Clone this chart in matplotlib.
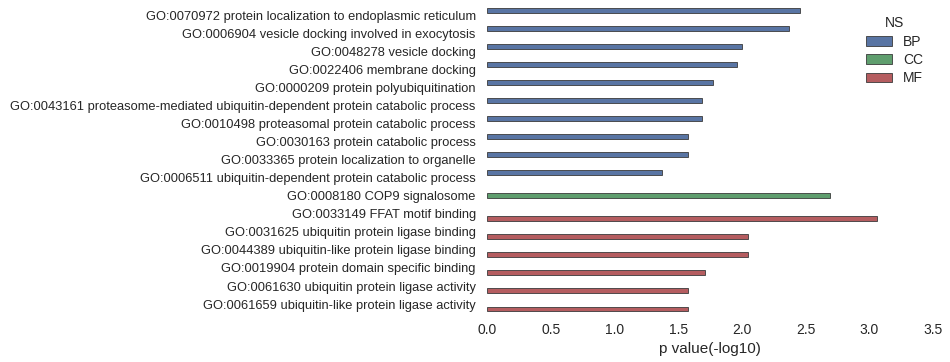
import colorsys
import numpy as np
import matplotlib
matplotlib.use("Agg")
import matplotlib.pyplot as plt
from matplotlib.colors import to_rgb

terms = [
    "GO:0070972 protein localization to endoplasmic reticulum",
    "GO:0006904 vesicle docking involved in exocytosis",
    "GO:0048278 vesicle docking",
    "GO:0022406 membrane docking",
    "GO:0000209 protein polyubiquitination",
    "GO:0043161 proteasome-mediated ubiquitin-dependent protein catabolic process",
    "GO:0010498 proteasomal protein catabolic process",
    "GO:0030163 protein catabolic process",
    "GO:0033365 protein localization to organelle",
    "GO:0006511 ubiquitin-dependent protein catabolic process",
    "GO:0008180 COP9 signalosome",
    "GO:0033149 FFAT motif binding",
    "GO:0031625 ubiquitin protein ligase binding",
    "GO:0044389 ubiquitin-like protein ligase binding",
    "GO:0019904 protein domain specific binding",
    "GO:0061630 ubiquitin protein ligase activity",
    "GO:0061659 ubiquitin-like protein ligase activity",
]
ns = ["BP"] * 10 + ["CC"] + ["MF"] * 6
pvals = [2.46, 2.37, 2.00, 1.96, 1.77, 1.69, 1.69, 1.58, 1.58, 1.37,
         2.69, 3.06, 2.05, 2.05, 1.71, 1.58, 1.58]
ns_order = ["BP", "CC", "MF"]
ns_colors = ["#4C72B0", "#55A868", "#C44E52"]


def desat(c, prop=0.75):
    h, l, s = colorsys.rgb_to_hls(*to_rgb(c))
    return colorsys.hls_to_rgb(h, l, s * prop)


plt.rcParams["font.family"] = ["Liberation Sans", "DejaVu Sans"]
plt.rcParams["text.color"] = "#262626"
plt.rcParams["axes.labelcolor"] = "#262626"
plt.rcParams["xtick.color"] = "#262626"
plt.rcParams["ytick.color"] = "#262626"

fig = plt.figure(figsize=(9.5, 3.62), dpi=100)
ax = fig.add_axes([0.5126, 0.135, 0.4695, 0.848])

width = 0.8 / len(ns_order)
offsets = (np.arange(len(ns_order)) - 1) * width
y = np.arange(len(terms))
for k, name in enumerate(ns_order):
    idx = [i for i, n in enumerate(ns) if n == name]
    ax.barh(y[idx] + offsets[k], [pvals[i] for i in idx], height=width,
            color=desat(ns_colors[k]), edgecolor="#3a3a3a", linewidth=0.6,
            label=name)

ax.set_yticks(y)
ax.set_yticklabels(terms, fontsize=9.3)
ax.set_ylim(len(terms) - 0.5, -0.5)
ax.set_xlim(0, 3.5)
ax.set_xticks(np.arange(0, 3.51, 0.5))
ax.tick_params(axis="x", labelsize=10, length=0, pad=7)
ax.tick_params(axis="y", length=0, pad=8)
ax.set_xlabel("p value(-log10)", fontsize=11, labelpad=4)
for s in ax.spines.values():
    s.set_visible(False)

leg = ax.legend(title="NS", loc="upper left", bbox_to_anchor=(0.898, 0.99),
                bbox_transform=fig.transFigure, frameon=False, fontsize=10,
                title_fontsize=10, handlelength=1.9, handleheight=0.7,
                labelspacing=0.32)

fig.savefig("out.png", dpi=100)
